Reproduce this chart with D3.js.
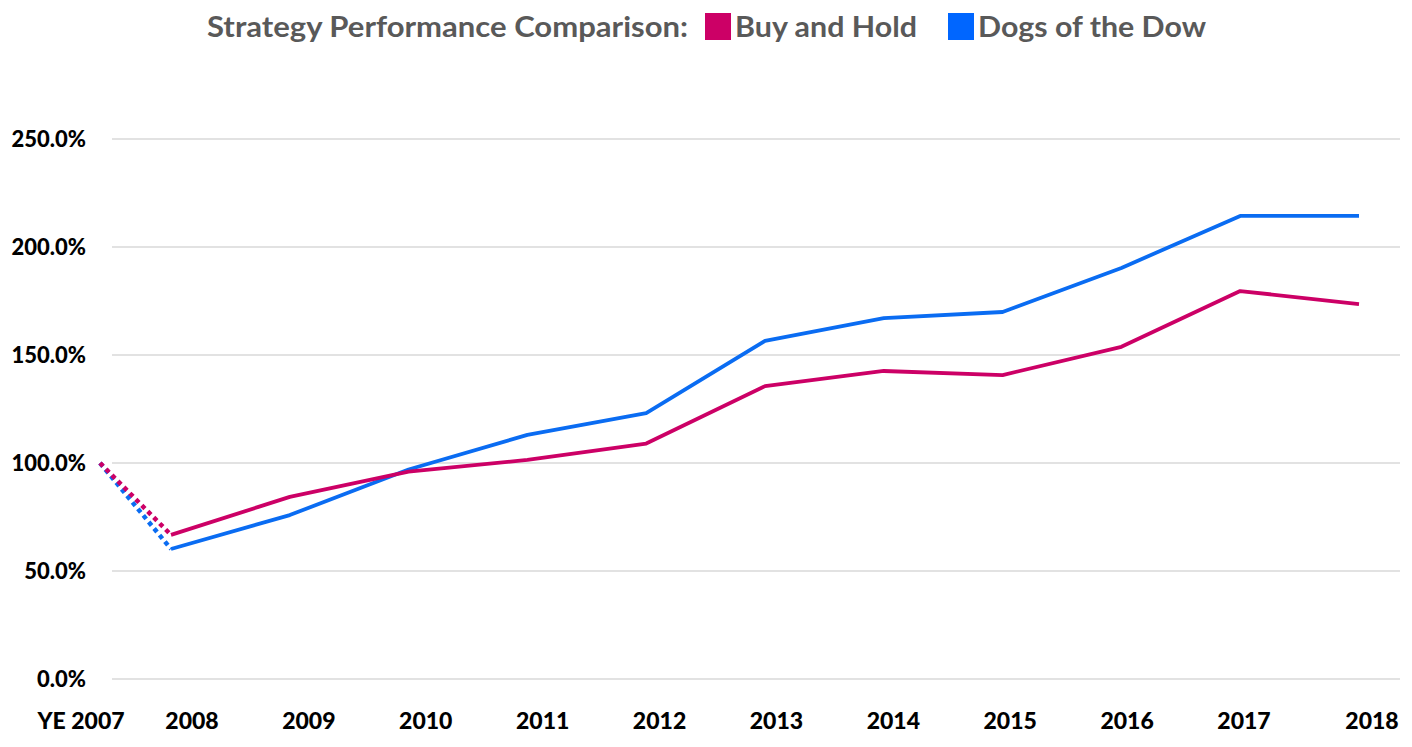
<!DOCTYPE html>
<html><head><meta charset="utf-8">
<script src="https://cdn.jsdelivr.net/npm/d3@7"></script>
<style>body{margin:0;background:#fff} svg{display:block}</style>
</head><body><svg id="c" width="1412" height="747"></svg>
<script>
const categories = ["YE 2007","2008","2009","2010","2011","2012","2013","2014","2015","2016","2017","2018"];
const buyAndHold = [100, 66.7, 84.3, 96, 101.4, 109, 135.6, 142.6, 140.7, 153.8, 179.6, 173.6];
const dogsOfTheDow = [100, 60.2, 75.9, 97, 113, 123.1, 156.5, 167.1, 169.9, 190.3, 214.4, 214.4];
const yTicks = [0, 50, 100, 150, 200, 250];
const seriesNames = ["Buy and Hold", "Dogs of the Dow"];
const titleText = "Strategy Performance Comparison:";

const colors = ["#cc0066", "#0a6cf2"];
const legendColors = ["#cc0066", "#0066ff"];
const svg = d3.select("#c");
const font = "Lato, 'Open Sans', sans-serif";

const y = d3.scaleLinear().domain([0, 250]).range([679, 139]);
// piecewise scales: data positions and label positions
const xData = d3.scaleLinear().domain([0, 1, 11]).range([100, 171, 1359]);
const xLabel = d3.scaleLinear().domain([0, 1, 10, 11]).range([81, 192, 1244, 1372]);

// gridlines
svg.append("g").selectAll("line").data(yTicks).join("line")
  .attr("x1", 112).attr("x2", 1400)
  .attr("y1", d => y(d)).attr("y2", d => y(d))
  .attr("stroke", "#d9d9d9").attr("stroke-width", 1.5);

// y labels
svg.append("g").selectAll("text").data(yTicks).join("text")
  .attr("x", 86).attr("y", d => y(d)).attr("dy", "0.36em")
  .attr("text-anchor", "end")
  .attr("font-family", font).attr("font-weight", "900").attr("font-size", 22)
  .attr("fill", "#000")
  .text(d => d3.format(".1f")(d) + "%");

// x labels
svg.append("g").selectAll("text").data(categories).join("text")
  .attr("x", (d, i) => xLabel(i)).attr("y", 729)
  .attr("text-anchor", "middle")
  .attr("font-family", font).attr("font-weight", "900").attr("font-size", 23)
  .attr("fill", "#000")
  .text(d => d);

// lines
const series = [buyAndHold, dogsOfTheDow];
const line = d3.line().x(d => xData(d.i)).y(d => y(d.v));
[1, 0].forEach(s => {
  const pts = series[s].map((v, i) => ({i, v}));
  svg.append("path").attr("d", line(pts.slice(0, 2)))
    .attr("fill", "none").attr("stroke", colors[s]).attr("stroke-width", 4.5)
    .attr("stroke-dasharray", "4.5 4");
  svg.append("path").attr("d", line(pts.slice(1)))
    .attr("fill", "none").attr("stroke", colors[s]).attr("stroke-width", 3.8)
    .attr("stroke-linejoin", "round");
});

// title + legend
const tg = svg.append("g").attr("font-family", font).attr("font-weight", "bold")
  .attr("font-size", 29).attr("fill", "#595959");
tg.append("text").attr("x", 207).attr("y", 37).attr("textLength", 481)
  .attr("lengthAdjust", "spacingAndGlyphs").text(titleText);
const legX = [705, 948];
const legW = [182, 228];
seriesNames.forEach((n, i) => {
  tg.append("rect").attr("x", legX[i]).attr("y", 13).attr("width", 26).attr("height", 27)
    .attr("fill", legendColors[i]);
  tg.append("text").attr("x", legX[i] + 30).attr("y", 37).attr("textLength", legW[i])
    .attr("lengthAdjust", "spacingAndGlyphs").text(n);
});
</script></body></html>
